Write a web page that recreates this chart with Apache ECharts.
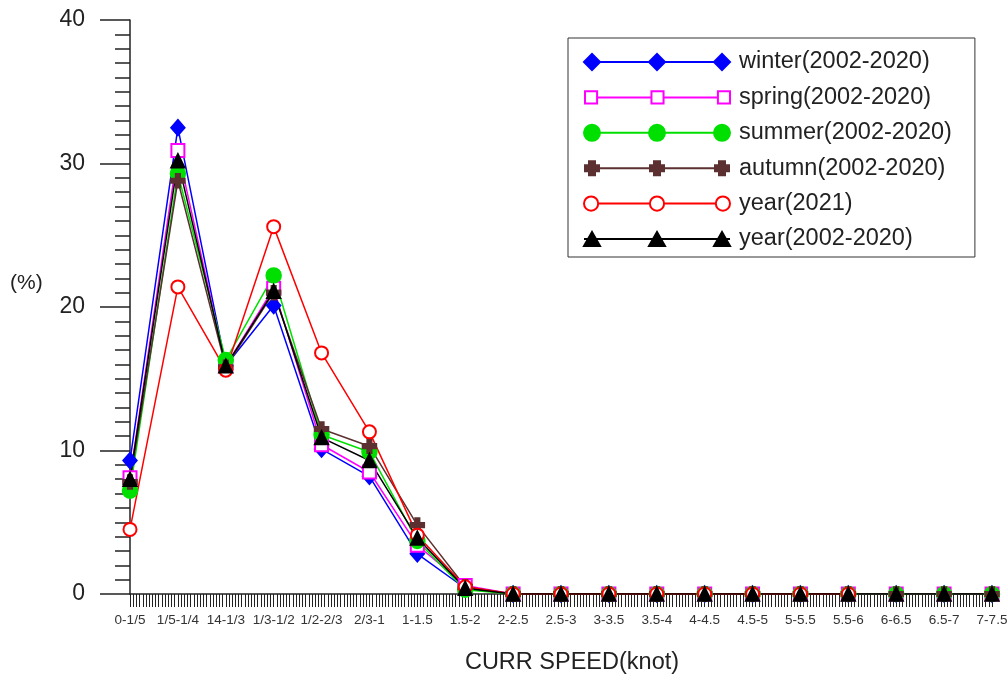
<!DOCTYPE html>
<html>
<head>
<meta charset="utf-8">
<script src="https://cdn.jsdelivr.net/npm/echarts@6/dist/echarts.min.js"></script>
<style>
  html, body { margin: 0; padding: 0; background: #fff; }
  #chart { width: 1008px; height: 682px; }
</style>
</head>
<body>
<div id="chart"></div>
<script>
const speeds = ['0-1/5', '1/5-1/4', '14-1/3', '1/3-1/2', '1/2-2/3', '2/3-1', '1-1.5', '1.5-2', '2-2.5',
  '2.5-3', '3-3.5', '3.5-4', '4-4.5', '4.5-5', '5-5.5', '5.5-6', '6-6.5', '6.5-7', '7-7.5']

const winter = [9.3, 32.5, 15.9, 20.1, 10.1, 8.2, 2.8, 0.4, 0, 0, 0, 0, 0, 0, 0, 0, 0, 0, 0]
const spring = [8.1, 30.9, 15.9, 21.3, 10.4, 8.5, 3.4, 0.6, 0, 0, 0, 0, 0, 0, 0, 0, 0, 0, 0]
const summer = [7.2, 29.3, 16.3, 22.2, 11.1, 9.9, 3.7, 0.3, 0, 0, 0, 0, 0, 0, 0, 0, 0, 0, 0]
const autumn = [7.8, 28.8, 15.8, 21.0, 11.5, 10.3, 4.8, 0.5, 0, 0, 0, 0, 0, 0, 0, 0, 0, 0, 0]
const year2021 = [4.5, 21.4, 15.6, 25.6, 16.8, 11.3, 4.1, 0.5, 0, 0, 0, 0, 0, 0, 0, 0, null, null, null]
const yearAll = [8.0, 30.2, 15.9, 21.1, 10.9, 9.3, 3.9, 0.4, 0, 0, 0, 0, 0, 0, 0, 0, 0, 0, 0]

const yTicks = [0, 10, 20, 30, 40]

// legend icons: a line with three markers (one path each)
const legendIcons = {
  diamond: 'path://M0 8H146M0 8L8 0L16 8L8 16ZM65 8L73 0L81 8L73 16ZM130 8L138 0L146 8L138 16Z',
  square: 'path://M1 2H13V14H1ZM67 2H79V14H67ZM133 2H145V14H133ZM13 8H67M79 8H133M0 8H1',
  dot: 'path://M0 8H146M0 8A8 8 0 1 0 16 8A8 8 0 1 0 0 8ZM65 8A8 8 0 1 0 81 8A8 8 0 1 0 65 8ZM130 8A8 8 0 1 0 146 8A8 8 0 1 0 130 8Z',
  cross: 'path://M0 8H146M5 1H11V5H15V11H11V15H5V11H1V5H5ZM70 1H76V5H80V11H76V15H70V11H66V5H70ZM135 1H141V5H145V11H141V15H135V11H131V5H135Z',
  ring: 'path://M1 8A7 7 0 1 0 15 8A7 7 0 1 0 1 8ZM66 8A7 7 0 1 0 80 8A7 7 0 1 0 66 8ZM131 8A7 7 0 1 0 145 8A7 7 0 1 0 131 8ZM15 8H66M80 8H131',
  triangle: 'path://M0 8H146M0 15L8 1L16 15ZM65 15L73 1L81 15ZM130 15L138 1L146 15Z'
}

const crossSymbol = 'path://M4 0H8V4H12V8H8V12H4V8H0V4H4Z'

const mkSeries = (name, values, color, symbol, size) => ({
  name: name,
  type: 'line',
  data: values.map((v, i) => [i, v]),
  symbol: symbol,
  symbolSize: size,
  connectNulls: false,
  itemStyle: { color: color, borderColor: color, borderWidth: 1.5 },
  lineStyle: { color: color, width: 1.5 },
  emphasis: { disabled: true }
})

const chart = echarts.init(document.getElementById('chart'))

const option = {
  animation: false,
  backgroundColor: '#fff',
  textStyle: { fontFamily: 'Liberation Sans, Arial, sans-serif' },
  title: {
    text: '(%)',
    left: 10,
    top: 273,
    padding: 0,
    textStyle: { fontSize: 21, fontWeight: 'normal', color: '#222' }
  },
  grid: { left: 130, right: 16, top: 20, bottom: 88, outerBoundsMode: 'none' },
  legend: {
    orient: 'vertical',
    left: 568,
    top: 38,
    padding: [12, 23, 6, 15],
    itemGap: 11.4,
    itemWidth: 146,
    itemHeight: 16,
    borderColor: '#333',
    borderWidth: 1,
    textStyle: { fontSize: 23.5, color: '#222', padding: [0, 0, 0, 4] },
    data: [
      { name: 'winter(2002-2020)', icon: legendIcons.diamond },
      { name: 'spring(2002-2020)', icon: legendIcons.square,
        itemStyle: { color: 'rgba(0,0,0,0)', borderColor: '#ff00ff', borderWidth: 2 } },
      { name: 'summer(2002-2020)', icon: legendIcons.dot },
      { name: 'autumn(2002-2020)', icon: legendIcons.cross },
      { name: 'year(2021)', icon: legendIcons.ring,
        itemStyle: { color: 'rgba(0,0,0,0)', borderColor: '#ff0000', borderWidth: 2 } },
      { name: 'year(2002-2020)', icon: legendIcons.triangle }
    ]
  },
  xAxis: {
    type: 'value',
    min: 0,
    max: speeds.length - 1,
    interval: 1,
    name: 'CURR SPEED(knot)',
    nameLocation: 'middle',
    nameGap: 57,
    nameTextStyle: { fontSize: 23.5, color: '#222', padding: [0, 0, 0, 22] },
    splitLine: { show: false },
    axisLine: { lineStyle: { color: '#222', width: 1.5 } },
    axisTick: { length: 13, lineStyle: { color: '#222', width: 1 } },
    minorTick: { show: true, splitNumber: 15, length: 13, lineStyle: { color: '#222', width: 1 } },
    axisLabel: {
      fontSize: 13.5,
      color: '#333',
      margin: 19,
      formatter: (v) => speeds[v] || ''
    }
  },
  yAxis: {
    type: 'value',
    min: 0,
    max: 40,
    interval: 10,
    splitLine: { show: false },
    axisLine: { show: true, lineStyle: { color: '#222', width: 1.5 } },
    axisTick: { length: 30, lineStyle: { color: '#222', width: 1.5 } },
    minorTick: { show: true, splitNumber: 10, length: 15, lineStyle: { color: '#222', width: 1.5 } },
    axisLabel: {
      fontSize: 23,
      color: '#222',
      margin: 45,
      formatter: (v) => yTicks.includes(v) ? String(v) : ''
    }
  },
  series: [
    mkSeries('winter(2002-2020)', winter, '#0000ff', 'diamond', [14, 16]),
    mkSeries('spring(2002-2020)', spring, '#ff00ff', 'emptyRect', 13),
    mkSeries('summer(2002-2020)', summer, '#00e000', 'circle', 15),
    mkSeries('autumn(2002-2020)', autumn, '#5c3030', crossSymbol, 14),
    mkSeries('year(2021)', year2021, '#ff0000', 'emptyCircle', 13),
    mkSeries('year(2002-2020)', yearAll, '#000000', 'triangle', 14)
  ]
}

chart.setOption(option)
</script>
</body>
</html>
